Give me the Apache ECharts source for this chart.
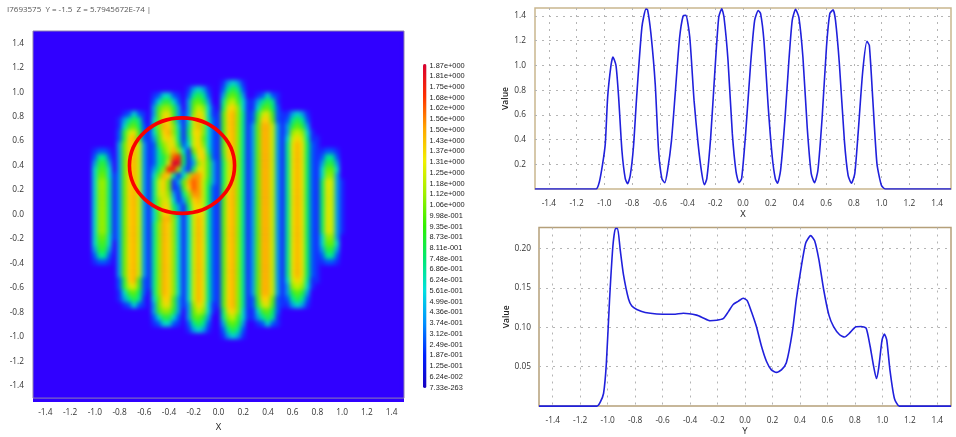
<!DOCTYPE html>
<html><head><meta charset="utf-8">
<style>
html,body{margin:0;padding:0;background:#fff}
#wrap{position:relative;width:956px;height:437px;overflow:hidden}
#heatBox{position:absolute;left:33px;top:31px;width:371px;height:371px;overflow:hidden;background:#3000ff}
#heat{width:371px;height:370px;filter:blur(2.2px)}
#c{position:absolute;left:0;top:0;width:956px;height:437px}
</style>
<script src="https://cdn.jsdelivr.net/npm/echarts@6/dist/echarts.min.js"></script>
</head><body><div id="wrap"><div id="heatBox"><div id="heat"></div></div><div id="c"></div></div>
<script>
const headerText = 'I7693575  Y = -1.5  Z = 5.7945672E-74 |';
const axisTicks = [-1.4,-1.2,-1.0,-0.8,-0.6,-0.4,-0.2,0.0,0.2,0.4,0.6,0.8,1.0,1.2,1.4];
const valueTicksTop = [0.2,0.4,0.6,0.8,1.0,1.2,1.4];
const valueTicksBottom = [0.05,0.10,0.15,0.20];
const legendLabels = ['1.87e+000','1.81e+000','1.75e+000','1.68e+000','1.62e+000','1.56e+000','1.50e+000','1.43e+000','1.37e+000','1.31e+000','1.25e+000','1.18e+000','1.12e+000','1.06e+000','9.98e-001','9.35e-001','8.73e-001','8.11e-001','7.48e-001','6.86e-001','6.24e-001','5.61e-001','4.99e-001','4.36e-001','3.74e-001','3.12e-001','2.49e-001','1.87e-001','1.25e-001','6.24e-002','7.33e-263'];
const heatColors = ['#3000ff','#0050ff','#00d8d8','#00f070','#30f030','#70f000','#d0f000','#ffd000','#ff9800','#ff2800','#d80030'];
const legendColors = ['#1800c0','#0020ff','#0090ff','#00e0e0','#00e870','#30f000','#a0f000','#f0f000','#ffa800','#ff3000','#d80030'];
// Red annotation ring in data units: centre x, centre y, radius x, radius y
const ring = [-0.295, 0.40, 0.425, 0.39];

// Field, row by row from y=1.475 down to y=-1.475, 0.05 apart.
// Each character is the value in tenths, base 20. Columns start at x=-1.0, 0.04 apart.
const heatFirstColumn = 12;
const heatColumns = 75;
const heatRows = [
"","","","","","","","",
"00000 0000000 0000000 0000000 134310 0000000 0000000 00000",
"00000 0000000 0000000 1343100 257520 0000000 0000000 00000",
"00000 0000000 1244210 2575200 389730 0124210 0000000 00000",
"00000 0000000 2477420 3897300 5ab841 1357510 0000000 00000",
"00000 0000000 38aa730 39ba410 6cda41 1489620 0000000 00000",
"00000 0124210 39cc831 3adb411 8dea51 27bc821 1343100 00000",
"00000 1357510 49dd831 4bec521 8dea51 28dd921 2575200 00000",
"00000 1489620 5aeda41 5bea421 8dea51 39eeb31 3797300 00000",
"00000 27bc821 49dea51 6cda421 8dea51 39eeb31 3aba410 00000",
"00000 27de821 38cdb51 5bd9421 8dea51 39eeb31 4bdb511 00000",
"00000 39deb31 27acc72 4bda421 8dea51 39eeb31 5cec621 00000",
"12210 39deb31 259bea4 19dc521 8dea51 39eeb31 5cec621 12210",
"25520 39deb31 257agh6 15cd721 7dea51 39eeb31 5cec621 25520",
"37730 39deb31 257cji6 13ac831 6bea51 39eeb31 5cec621 37730",
"48840 39deb31 36ahha3 16cc831 6bea51 39eeb31 5cec621 49940",
"49941 39deb31 49ed514 affc831 6bea51 39eeb31 5cec621 4aa30",
"4aa51 39deb31 5bd9139 egfb731 6bea51 39eeb31 5cec621 6cb31",
"4aa51 39deb31 5bd9128 dgfb621 7cea51 39eeb31 5cec621 6cb31",
"4aa51 39deb31 5bca315 affb621 8dea51 39eeb31 5cec621 6cb31",
"4aa51 39deb31 5acb413 8deb621 8dea51 39eeb31 5cec621 6cb31",
"4aa51 39deb31 5adc631 6cdb521 8dea51 39eeb31 5cec621 6cb31",
"4aa51 39deb31 49dd831 5bdc521 8dea51 39eeb31 5cec621 6cb31",
"4aa51 39deb31 49eea41 4bec521 8dea51 39eeb31 5cec621 6cb31",
"4aa51 39deb31 5aeda41 4bec521 8dea51 39eeb31 5cec621 6cb31",
"4aa51 39deb31 5aeda41 4bec521 8dea51 39eeb31 5cec621 6cb31",
"49941 39deb31 5aeda41 4bec521 8dea51 39eeb31 5cec621 4aa30",
"48840 39deb31 5aeda41 4bec521 8dea51 39eeb31 5cec621 49940",
"37730 39deb31 5aeda41 4bec521 8dea51 39eeb31 5cec621 37730",
"25520 39deb31 5aeda41 4bec521 8dea51 39eeb31 5cec621 25520",
"12210 39deb31 5aeda41 4bec521 8dea51 39eeb31 5cec621 12210",
"00000 39deb31 5aeda41 4bec521 8dea51 39eeb31 5cec621 00000",
"00000 39deb31 5aeda41 4bec521 8dea51 39eeb31 5cec621 00000",
"00000 27de821 5aeda41 4bec521 8dea51 39eeb31 4bdb511 00000",
"00000 27bc821 5aeda41 4bec521 8dea51 39eeb31 3aba410 00000",
"00000 1489620 5aeda41 4bec521 8dea51 39eeb31 3797300 00000",
"00000 1357510 49dd831 4bec521 8dea51 28dd921 2575200 00000",
"00000 0124210 39cc831 3adb411 8dea51 27bc821 1343100 00000",
"00000 0000000 38aa730 39ba410 6cda41 1489620 0000000 00000",
"00000 0000000 2477420 3897300 5ab841 1357510 0000000 00000",
"00000 0000000 1244210 2575200 389730 0124210 0000000 00000",
"00000 0000000 0000000 1343100 257520 0000000 0000000 00000",
"00000 0000000 0000000 0000000 134310 0000000 0000000 00000",
"","","","","","","","","",""
];

const xProfileX = [-1.5,-1.06,-1.036,-1.012,-0.993,-0.976,-0.952,-0.938,-0.916,-0.897,-0.873,-0.849,-0.832,-0.813,-0.79,-0.767,-0.729,-0.70,-0.688,-0.664,-0.633,-0.609,-0.585,-0.564,-0.544,-0.516,-0.489,-0.458,-0.432,-0.412,-0.384,-0.353,-0.324,-0.297,-0.278,-0.261,-0.233,-0.204,-0.175,-0.153,-0.137,-0.108,-0.077,-0.05,-0.029,-0.01,0.019,0.055,0.084,0.11,0.127,0.151,0.182,0.211,0.233,0.249,0.271,0.302,0.331,0.355,0.379,0.403,0.432,0.463,0.492,0.516,0.54,0.571,0.602,0.626,0.65,0.667,0.695,0.731,0.758,0.782,0.806,0.83,0.863,0.894,0.911,0.935,0.966,0.998,1.026,1.5];
const xProfileV = [0,0,0.057,0.205,0.367,0.744,1.0,1.068,1.0,0.744,0.31,0.084,0.043,0.11,0.34,0.744,1.31,1.456,1.45,1.257,0.85,0.31,0.084,0.05,0.15,0.39,0.77,1.216,1.40,1.405,1.23,0.717,0.367,0.124,0.035,0.084,0.42,0.933,1.39,1.459,1.39,1.04,0.448,0.138,0.051,0.084,0.448,1.014,1.365,1.445,1.42,1.2,0.663,0.259,0.084,0.046,0.15,0.555,1.04,1.365,1.454,1.39,1.068,0.50,0.124,0.05,0.15,0.583,1.149,1.42,1.45,1.365,1.014,0.394,0.11,0.046,0.124,0.448,0.947,1.195,1.162,0.744,0.205,0.03,0,0];
const yProfileX = [-1.5,-1.078,-1.054,-1.03,-1.01,-0.986,-0.962,-0.943,-0.928,-0.909,-0.885,-0.848,-0.824,-0.788,-0.727,-0.643,-0.522,-0.449,-0.352,-0.304,-0.255,-0.207,-0.159,-0.122,-0.086,-0.05,-0.013,0.016,0.047,0.083,0.12,0.156,0.192,0.229,0.265,0.301,0.345,0.374,0.405,0.442,0.478,0.507,0.538,0.572,0.611,0.645,0.689,0.725,0.761,0.805,0.846,0.882,0.911,0.936,0.957,0.974,0.998,1.015,1.032,1.056,1.088,1.124,1.5];
const yProfileV = [0,0,0.005,0.016,0.053,0.136,0.203,0.2256,0.2256,0.199,0.167,0.136,0.127,0.1226,0.1188,0.117,0.1167,0.118,0.1155,0.112,0.1084,0.109,0.111,0.1197,0.129,0.133,0.137,0.134,0.1197,0.101,0.076,0.057,0.046,0.0428,0.046,0.055,0.0947,0.136,0.1716,0.207,0.2165,0.21,0.186,0.1487,0.1155,0.101,0.0906,0.0877,0.0926,0.1005,0.101,0.099,0.076,0.051,0.035,0.049,0.084,0.0914,0.084,0.045,0.0096,0,0];

const heatData = [];
const nRows = heatRows.length;
heatRows.forEach((row, r) => {
  const s = row.replace(/ /g, '');
  for (let c = 0; c < heatColumns; c++) {
    const ch = s[c - heatFirstColumn];
    const v = ch ? Math.min(parseInt(ch, 20) * 0.1, 1.87) : 0;
    heatData.push([c, nRows - 1 - r, v]);
  }
});
const colCats = Array.from({length: heatColumns}, (_, i) => i);
const rowCats = Array.from({length: nRows}, (_, i) => i);
const zip = (a, b) => a.map((v, i) => [v, b[i]]);

// The field itself, on its own layer under the axes
const heatChart = echarts.init(document.getElementById('heat'), null, {renderer: 'canvas'});
heatChart.setOption({
  animation: false,
  grid: {left: 0, right: 0, top: 0, bottom: 0, backgroundColor: '#3000ff', show: true, borderWidth: 0},
  xAxis: {type: 'category', data: colCats, show: false},
  yAxis: {type: 'category', data: rowCats, show: false},
  visualMap: {type: 'continuous', show: false, min: 0, max: 1.87, inRange: {color: heatColors}},
  series: [{type: 'heatmap', data: heatData, progressive: 0, itemStyle: {borderWidth: 0}, emphasis: {disabled: true}}]
});

const font = '"Open Sans"';
const labelStyle = {fontFamily: font, fontSize: 8.3, color: '#333'};
const dotted = {show: true, lineStyle: {color: '#b4b4b4', type: [2, 5], width: 1}};
const nameBig = {fontFamily: font, fontSize: 9.5, color: '#222'};
function valueAxis(extra) {
  return Object.assign({
    type: 'value', axisLine: {show: false},
    axisTick: {show: false, customValues: axisTicks},
    splitLine: {show: false},
    axisLabel: Object.assign({}, labelStyle, {customValues: axisTicks, margin: 11, hideOverlap: false, formatter: v => v.toFixed(1)}),
    nameLocation: 'middle', nameTextStyle: {fontFamily: font, fontSize: 8.5, fontWeight: 600, color: '#222'}
  }, extra);
}
const chart = echarts.init(document.getElementById('c'), null, {renderer: 'canvas'});
chart.setOption({
  animation: false,
  title: {text: headerText, left: 7, top: 6, padding: 0, textStyle: {fontFamily: font, fontSize: 8, fontWeight: 'normal', color: '#555'}},
  grid: [
    {left: 33, top: 31, width: 371, height: 370, show: true, backgroundColor: 'transparent', borderColor: '#8f80b0', borderWidth: 1},
    {left: 535, top: 8, width: 416, height: 181, show: true, backgroundColor: '#fff', borderColor: '#c9b68f', borderWidth: 1.5},
    {left: 539, top: 227.5, width: 412, height: 181.5, show: true, backgroundColor: '#fff', borderColor: '#b5a07a', borderWidth: 1.5},
    {left: 423, top: 65.5, width: 3.5, height: 322}
  ],
  xAxis: [
    valueAxis({gridIndex: 0, min: -1.5, max: 1.5, name: 'X', nameGap: 18, nameTextStyle: nameBig, position: 'bottom', axisLabel: Object.assign({}, labelStyle, {customValues: axisTicks, margin: 11, formatter: v => v.toFixed(1)})}),
    valueAxis({gridIndex: 1, min: -1.5, max: 1.5, name: 'X', nameGap: 18, nameTextStyle: nameBig, splitLine: dotted}),
    valueAxis({gridIndex: 2, min: -1.5, max: 1.5, name: 'Y', nameGap: 17, nameTextStyle: nameBig, splitLine: dotted}),
    {type: 'value', gridIndex: 3, show: false}
  ],
  yAxis: [
    valueAxis({gridIndex: 0, min: -1.5, max: 1.5, position: 'left', axisLabel: Object.assign({}, labelStyle, {customValues: axisTicks, margin: 9, formatter: v => v.toFixed(1)})}),
    valueAxis({gridIndex: 1, min: 0, max: 1.465, name: 'Value', nameGap: 21, nameRotate: 90, splitLine: dotted,
      axisTick: {show: false, customValues: valueTicksTop},
      axisLabel: Object.assign({}, labelStyle, {customValues: valueTicksTop, margin: 9, formatter: v => v.toFixed(1)})}),
    valueAxis({gridIndex: 2, min: 0, max: 0.2268, name: 'Value', nameGap: 25, nameRotate: 90, splitLine: dotted,
      axisTick: {show: false, customValues: valueTicksBottom},
      axisLabel: Object.assign({}, labelStyle, {customValues: valueTicksBottom, margin: 8, formatter: v => v.toFixed(2)})}),
    {type: 'category', gridIndex: 3, position: 'right', inverse: true, boundaryGap: false, data: legendLabels,
      axisLine: {show: false}, axisTick: {show: false}, splitLine: {show: false},
      axisLabel: {interval: 0, margin: 3, fontFamily: '"Liberation Sans"', fontSize: 7.4, color: '#222'}}
  ],
  visualMap: {type: 'continuous', seriesIndex: [], min: 0, max: 1.87, left: 423, top: 64, padding: 0,
    itemWidth: 3.5, itemHeight: 324, showLabel: false, calculable: false, text: ['', ''],
    inRange: {color: legendColors}},
  series: [
    {type: 'line', xAxisIndex: 1, yAxisIndex: 1, data: zip(xProfileX, xProfileV), showSymbol: false, smooth: 0.2, clip: true, lineStyle: {color: '#2020dc', width: 1.6}},
    {type: 'line', xAxisIndex: 2, yAxisIndex: 2, data: zip(yProfileX, yProfileV), showSymbol: false, smooth: 0.2, clip: true, lineStyle: {color: '#2020dc', width: 1.6}}
  ]
});
const cx = chart.convertToPixel({xAxisIndex: 0}, ring[0]);
const cy = chart.convertToPixel({yAxisIndex: 0}, ring[1]);
const rx = chart.convertToPixel({xAxisIndex: 0}, ring[0] + ring[2]) - cx;
const ry = cy - chart.convertToPixel({yAxisIndex: 0}, ring[1] + ring[3]);
chart.setOption({graphic: [{type: 'ellipse', z: 100, shape: {cx, cy, rx, ry}, style: {fill: 'none', stroke: '#fa0000', lineWidth: 3.6}}]});
</script>
</body></html>
